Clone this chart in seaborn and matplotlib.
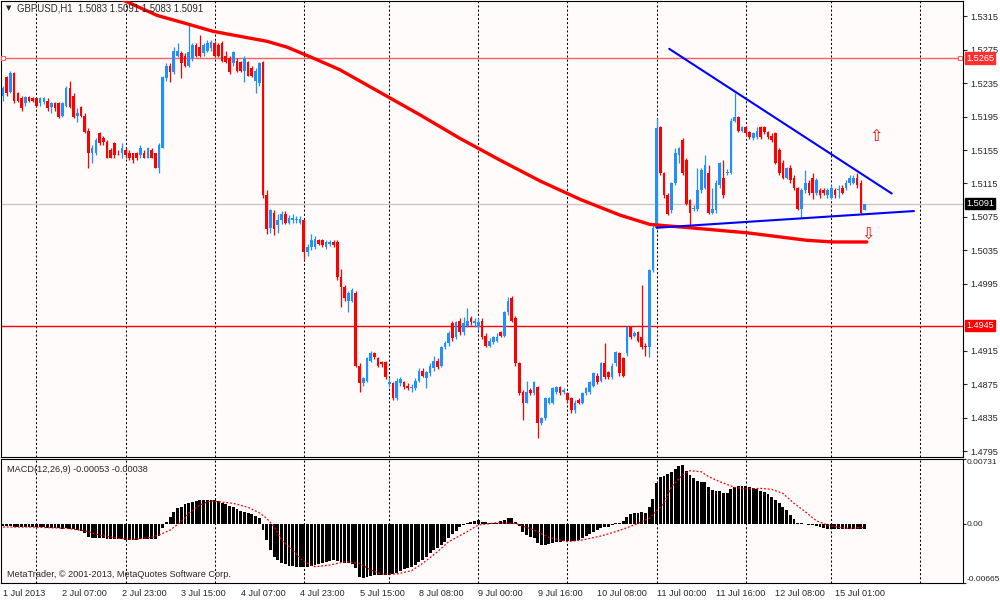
import numpy as np
import matplotlib
matplotlib.use("Agg")
import matplotlib.pyplot as plt
import seaborn as sns

# ── data: GBPUSD H1, prices in 1e-4 units ────────────────────────────────────
bar_open = [
    15220, 15242, 15224, 15247, 15223, 15217, 15211, 15218, 15217, 15217,
    15211, 15212, 15214, 15206, 15211, 15211, 15196, 15208, 15229, 15220,
    15196, 15206, 15196, 15178, 15151, 15152, 15175, 15169, 15164, 15155,
    15163, 15152, 15151, 15155, 15152, 15151, 15151, 15149, 15152, 15146,
    15155, 15151, 15134, 15158, 15241, 15256, 15248, 15268, 15271, 15268,
    15256, 15265, 15280, 15278, 15271, 15274, 15277, 15283, 15280, 15283,
    15268, 15265, 15259, 15262, 15260, 15250, 15260, 15253, 15238, 15235,
    15260, 15101, 15062, 15080, 15065, 15071, 15079, 15068, 15071, 15071,
    15068, 15071, 15033, 15039, 15039, 15047, 15047, 15039, 15042, 15045,
    15045, 15003, 14991, 14975, 14975, 14984, 14897, 14876, 14879, 14903,
    14912, 14906, 14901, 14901, 14875, 14876, 14858, 14876, 14877, 14873,
    14870, 14870, 14879, 14891, 14882, 14888, 14894, 14903, 14897, 14919,
    14924, 14948, 14931, 14951, 14937, 14945, 14954, 14948, 14943, 14951,
    14933, 14921, 14925, 14927, 14937, 14933, 14961, 14978, 14954, 14900,
    14865, 14853, 14868, 14864, 14871, 14828, 14834, 14853, 14853, 14865,
    14871, 14865, 14864, 14858, 14844, 14856, 14853, 14864, 14865, 14873,
    14885, 14879, 14900, 14889, 14883, 14900, 14912, 14906, 14912, 14943,
    14933, 14937, 14931, 14921, 14919, 15011, 15062, 15182, 15127, 15101,
    15083, 15115, 15149, 15167, 15143, 15095, 15084, 15084, 15107, 15110,
    15128, 15080, 15083, 15113, 15122, 15127, 15128, 15190, 15194, 15178,
    15182, 15176, 15169, 15170, 15182, 15182, 15176, 15172, 15175, 15155,
    15140, 15122, 15134, 15122, 15109, 15085, 15107, 15116, 15122, 15103,
    15107, 15107, 15101, 15098, 15107, 15107, 15110, 15109, 15115, 15116,
    15122, 15116, 15083]

bar_high = [
    15232, 15244, 15249, 15248, 15224, 15220, 15220, 15220, 15218, 15218,
    15218, 15219, 15217, 15213, 15213, 15212, 15213, 15232, 15238, 15223,
    15205, 15208, 15199, 15181, 15161, 15169, 15177, 15172, 15167, 15157,
    15165, 15155, 15163, 15157, 15155, 15152, 15153, 15161, 15155, 15159,
    15157, 15152, 15163, 15244, 15259, 15259, 15278, 15283, 15274, 15271,
    15304, 15283, 15283, 15292, 15283, 15286, 15286, 15285, 15283, 15285,
    15274, 15267, 15274, 15265, 15262, 15267, 15262, 15255, 15253, 15260,
    15262, 15107, 15085, 15083, 15079, 15082, 15082, 15077, 15078, 15076,
    15076, 15073, 15042, 15055, 15052, 15049, 15049, 15047, 15047, 15047,
    15047, 15013, 14993, 14986, 14990, 14986, 14900, 14884, 14908, 14915,
    14914, 14908, 14903, 14903, 14882, 14878, 14882, 14883, 14879, 14876,
    14875, 14882, 14894, 14894, 14891, 14900, 14909, 14906, 14921, 14926,
    14938, 14950, 14951, 14954, 14955, 14966, 14956, 14954, 14954, 14954,
    14936, 14930, 14933, 14936, 14939, 14963, 14979, 14980, 14956, 14902,
    14868, 14879, 14870, 14879, 14873, 14836, 14860, 14860, 14872, 14873,
    14873, 14870, 14866, 14860, 14856, 14858, 14866, 14872, 14879, 14890,
    14888, 14902, 14924, 14891, 14900, 14915, 14914, 14908, 14945, 14945,
    14939, 14939, 14993, 14924, 15013, 15065, 15193, 15184, 15129, 15103,
    15117, 15157, 15159, 15169, 15145, 15097, 15089, 15133, 15133, 15149,
    15137, 15110, 15119, 15141, 15143, 15132, 15193, 15223, 15196, 15184,
    15184, 15178, 15177, 15182, 15184, 15184, 15178, 15175, 15177, 15157,
    15143, 15135, 15137, 15125, 15111, 15109, 15131, 15119, 15127, 15121,
    15109, 15109, 15109, 15113, 15109, 15113, 15113, 15119, 15125, 15125,
    15128, 15119, 15091]

bar_low = [
    15214, 15220, 15223, 15211, 15212, 15202, 15208, 15212, 15212, 15206,
    15208, 15210, 15202, 15199, 15202, 15193, 15194, 15206, 15205, 15193,
    15188, 15194, 15175, 15134, 15139, 15149, 15161, 15161, 15145, 15145,
    15146, 15149, 15145, 15146, 15143, 15140, 15143, 15146, 15145, 15145,
    15145, 15133, 15127, 15157, 15238, 15236, 15246, 15266, 15241, 15254,
    15254, 15262, 15266, 15266, 15268, 15272, 15274, 15266, 15266, 15260,
    15259, 15246, 15256, 15248, 15248, 15236, 15243, 15242, 15223, 15232,
    15098, 15055, 15056, 15053, 15056, 15067, 15066, 15067, 15068, 15068,
    15067, 15025, 15028, 15036, 15037, 15041, 15039, 15037, 15040, 15039,
    14999, 14967, 14975, 14961, 14973, 14895, 14865, 14873, 14877, 14901,
    14905, 14895, 14896, 14881, 14872, 14856, 14856, 14873, 14869, 14868,
    14865, 14868, 14877, 14883, 14870, 14885, 14891, 14893, 14895, 14917,
    14921, 14927, 14929, 14934, 14934, 14943, 14946, 14943, 14940, 14929,
    14919, 14919, 14923, 14925, 14931, 14931, 14958, 14949, 14897, 14862,
    14832, 14852, 14862, 14862, 14811, 14826, 14832, 14851, 14851, 14863,
    14862, 14863, 14853, 14841, 14841, 14851, 14851, 14862, 14863, 14871,
    14875, 14877, 14881, 14881, 14881, 14897, 14885, 14883, 14909, 14929,
    14931, 14925, 14917, 14909, 14907, 15009, 15060, 15125, 15098, 15077,
    15080, 15113, 15139, 15125, 15089, 15062, 15082, 15082, 15104, 15108,
    15078, 15078, 15080, 15110, 15098, 15125, 15126, 15188, 15176, 15176,
    15172, 15168, 15167, 15168, 15168, 15174, 15168, 15164, 15138, 15125,
    15120, 15120, 15116, 15107, 15083, 15074, 15104, 15101, 15097, 15101,
    15098, 15101, 15098, 15096, 15098, 15098, 15102, 15107, 15113, 15114,
    15110, 15078, 15083]

bar_close = [
    15229, 15223, 15247, 15214, 15214, 15205, 15218, 15214, 15214, 15208,
    15217, 15217, 15205, 15211, 15205, 15194, 15211, 15229, 15206, 15194,
    15199, 15196, 15176, 15151, 15157, 15167, 15163, 15164, 15146, 15146,
    15149, 15151, 15157, 15149, 15145, 15143, 15145, 15158, 15146, 15157,
    15146, 15134, 15161, 15242, 15256, 15248, 15274, 15274, 15259, 15256,
    15272, 15280, 15268, 15268, 15280, 15283, 15284, 15268, 15268, 15262,
    15260, 15248, 15272, 15250, 15250, 15265, 15244, 15244, 15250, 15259,
    15101, 15061, 15083, 15061, 15071, 15079, 15068, 15074, 15074, 15073,
    15073, 15033, 15039, 15047, 15049, 15043, 15041, 15045, 15045, 15041,
    15003, 14991, 14978, 14984, 14987, 14897, 14876, 14882, 14906, 14912,
    14907, 14897, 14899, 14883, 14877, 14858, 14879, 14881, 14871, 14870,
    14872, 14879, 14891, 14885, 14889, 14897, 14903, 14895, 14919, 14924,
    14936, 14930, 14949, 14937, 14948, 14951, 14949, 14951, 14949, 14931,
    14921, 14927, 14931, 14931, 14933, 14961, 14975, 14951, 14900, 14864,
    14853, 14865, 14864, 14877, 14828, 14834, 14858, 14858, 14870, 14871,
    14864, 14868, 14856, 14844, 14853, 14853, 14864, 14870, 14877, 14888,
    14877, 14900, 14883, 14883, 14897, 14913, 14888, 14885, 14943, 14931,
    14936, 14927, 14919, 14919, 15011, 15062, 15181, 15127, 15101, 15079,
    15115, 15151, 15157, 15127, 15091, 15080, 15086, 15107, 15131, 15137,
    15080, 15085, 15116, 15139, 15101, 15129, 15190, 15194, 15178, 15182,
    15175, 15170, 15175, 15178, 15170, 15176, 15170, 15167, 15140, 15127,
    15122, 15133, 15119, 15109, 15085, 15107, 15115, 15103, 15104, 15119,
    15101, 15103, 15107, 15109, 15101, 15108, 15104, 15116, 15122, 15122,
    15113, 15080, 15091]

# moving average (thick red line), read at vertices: bar index, price*1e4
ma_bar = [30, 41.5, 49.5, 56.5, 63.8, 71.1, 76.5, 83.5, 90.7, 101.5, 112.3,
          123, 133.8, 144.6, 155.4, 166.2, 174.2, 185, 200.3, 216.5, 223.5, 232.6]
ma_price = [15339, 15316, 15306, 15297, 15291, 15285, 15278, 15265, 15251, 15224,
            15197, 15169, 15143, 15118, 15096, 15077, 15066, 15062, 15056, 15047,
            15045, 15045]

# MACD(12,26,9) main line as histogram, 1e-5 units
macd_main = [
    -25, -28, -25, -30, -32, -35, -35, -35, -33, -33,
    -38, -38, -42, -44, -45, -50, -55, -48, -52, -60,
    -68, -75, -100, -150, -158, -155, -160, -163, -170, -172,
    -172, -175, -175, -178, -180, -181, -180, -175, -172, -170,
    -168, -172, -140, -50, 25, 81, 138, 175, 194, 220,
    232, 243, 258, 269, 273, 273, 273, 269, 258, 239,
    220, 202, 187, 164, 145, 130, 119, 107, 89, 70,
    -69, -181, -294, -369, -406, -444, -455, -470, -474, -481,
    -481, -489, -481, -474, -466, -455, -444, -433, -418, -406,
    -418, -433, -436, -444, -451, -500, -594, -605, -598, -586,
    -579, -575, -575, -575, -575, -564, -549, -526, -508, -500,
    -481, -463, -433, -406, -376, -331, -294, -275, -238, -200,
    -155, -114, -76, -39, -12, 14, 25, 33, 44, 25,
    18, 14, 14, 14, 36, 44, 70, 70, 25, -24,
    -87, -125, -151, -162, -219, -238, -238, -230, -211, -200,
    -200, -193, -189, -189, -189, -181, -162, -136, -114, -87,
    -69, -50, -39, -31, -16, 14, 14, 36, 81, 108,
    119, 127, 130, 127, 187, 280, 457, 524, 543, 562,
    581, 618, 656, 663, 599, 551, 513, 483, 476, 468,
    419, 382, 374, 370, 352, 352, 393, 419, 430, 430,
    430, 412, 400, 393, 374, 355, 333, 307, 269, 232,
    194, 157, 100, 55, 14, 6, -1, -9, -12, -24,
    -39, -50, -53, -57, -57, -55, -55, -55, -54, -54,
    -53, -55, -53]

# signal line (red dotted), read at vertices
signal_bar = [0, 8, 17, 22, 26, 31, 35, 40, 42, 45, 48, 50, 53, 56, 58, 62, 66,
              69, 71, 73, 75, 78, 81, 84, 88, 92, 96, 99, 102, 106, 110, 113,
              117, 120, 125, 128, 133, 138, 143, 147, 152, 156, 161, 165, 170,
              174, 178, 180, 183, 185, 188, 190, 193, 197, 200, 204, 207, 210,
              213, 216, 219, 222, 225, 228, 232]
signal_val = [-35, -35, -50, -76, -125, -162, -174, -151, -125, -69, 25, 119,
              213, 262, 250, 232, 187, 126, 63, -31, -181, -294, -425, -481,
              -463, -425, -444, -519, -564, -564, -526, -444, -313, -200, -87,
              -12, 14, 6, -69, -151, -200, -181, -136, -87, -12, 63, 232, 419,
              551, 599, 588, 532, 476, 412, 393, 400, 389, 344, 232, 138, 36,
              -12, -39, -50, -38]

# drawn objects: trend lines (bar, price), horizontal levels, arrows
trend_upper_bar = [179.4, 239.3]
trend_upper_price = [1.5276, 1.5103]
trend_lower_bar = [176.0, 245.3]
trend_lower_price = [1.5062, 1.5082]
level_high = 1.5265
level_low = 1.4945
bid_price = 1.5091
arrow_up = (235.0, 1.5171)
arrow_down = (232.8, 1.5053)

day_start_bars = [9, 33, 57, 81, 104, 128, 152, 176, 200, 223, 247]
time_label_bars = [0, 16, 32, 48, 64, 80, 96, 112, 128, 144, 160, 176, 192, 208, 224]
time_labels = ["1 Jul 2013", "2 Jul 07:00", "2 Jul 23:00", "3 Jul 15:00",
               "4 Jul 07:00", "4 Jul 23:00", "5 Jul 15:00", "8 Jul 08:00",
               "9 Jul 00:00", "9 Jul 16:00", "10 Jul 08:00", "11 Jul 00:00",
               "11 Jul 16:00", "12 Jul 08:00", "15 Jul 01:00"]
price_ticks = [1.5315, 1.5275, 1.5235, 1.5195, 1.5155, 1.5115, 1.5075,
               1.5035, 1.4995, 1.4915, 1.4875, 1.4835, 1.4795]
macd_ticks = [0.00731, 0.0, -0.00665]
macd_tick_labels = ["0.00731", "0.00", "-0.00665"]

# ── style ─────────────────────────────────────────────────────────────────────
sns.set_style("white")
plt.rcParams["font.family"] = ["Liberation Sans", "DejaVu Sans"]
BG = "#FFFBFA"
BULL, BEAR = "#1E90FF", "#FF0000"
FS = 6.6

o = np.array(bar_open) / 1e4
h = np.array(bar_high) / 1e4
l = np.array(bar_low) / 1e4
c = np.array(bar_close) / 1e4
idx = np.arange(len(o))
xlim = (-0.54, 258.5)

fig = plt.figure(figsize=(10, 6), dpi=100)
fig.patch.set_facecolor("white")
ax = fig.add_axes([0.001, 0.2383, 0.962, 0.760])
ax2 = fig.add_axes([0.001, 0.0283, 0.962, 0.2067])

for a in (ax, ax2):
    a.set_facecolor(BG)
    a.set_xlim(*xlim)
    for s in a.spines.values():
        s.set_color("black")
        s.set_linewidth(0.8)
    for d in day_start_bars:
        a.axvline(d, color="black", lw=0.75, ls=(0, (2, 2)), zorder=1)

# ── price panel ───────────────────────────────────────────────────────────────
ax.set_ylim(1.47878, 1.53332)
ax.axhline(bid_price, color="#C8C8C8", lw=1, zorder=1)
ax.axhline(level_high, color="#FF6060", lw=1, zorder=1)
ax.axhline(level_low, color="#FF0000", lw=1, zorder=1)
ytr = ax.get_yaxis_transform()
ax.plot([0.002, 0.997], [level_high, level_high], ls="none", marker="s", ms=3.5,
        mfc="white", mec="#FF6060", mew=0.8, transform=ytr, clip_on=False, zorder=5)

colors = np.where(c >= o, BULL, BEAR)
ax.vlines(idx, l, h, colors=colors, lw=0.9, zorder=3)
body = np.maximum(np.abs(c - o), 0.00007)
ax.bar(idx, body, bottom=np.minimum(o, c) - (body - np.abs(c - o)) / 2,
       width=0.72, color=colors, lw=0, zorder=3)

sns.lineplot(x=ma_bar, y=np.array(ma_price) / 1e4, color="#FF0000", lw=2.4,
             estimator=None, sort=False, ax=ax, zorder=4)
ax.plot(trend_upper_bar, trend_upper_price, color="#0000FF", lw=1.5, zorder=5)
ax.plot(trend_lower_bar, trend_lower_price, color="#0000FF", lw=1.5, zorder=5)
ax.text(*arrow_up, "\u21e7", color="#FF0000", fontsize=11.5, ha="center", va="center",
        family="DejaVu Sans", zorder=6)
ax.text(*arrow_down, "\u21e9", color="#FF0000", fontsize=11.5, ha="center", va="center",
        family="DejaVu Sans", zorder=6)

ax.set_xticks([])
ax.yaxis.tick_right()
ax.set_yticks(price_ticks)
ax.set_yticklabels([f"{p:.4f}" for p in price_ticks])
ax.tick_params(axis="y", length=3, width=0.8, pad=2, labelsize=FS, direction="out")
ax.set_ylabel("")

for val, fc in ((level_high, "#FF3030"), (level_low, "#FF0000"), (bid_price, "black")):
    ax.text(1.003, val, f"{val:.4f}", transform=ytr, ha="left", va="center",
            fontsize=FS, color="white", clip_on=False, zorder=7,
            bbox=dict(boxstyle="square,pad=0.15", fc=fc, ec=fc))

ax.text(0.005, 0.992, "\u25bc", transform=ax.transAxes, ha="left", va="top",
        fontsize=5, family="DejaVu Sans")
ax.text(0.017, 0.994, "GBPUSD,H1  1.5083 1.5091 1.5083 1.5091", transform=ax.transAxes,
        ha="left", va="top", fontsize=FS + 0.3, zorder=8)

# ── MACD panel ────────────────────────────────────────────────────────────────
ax2.set_ylim(-0.00665, 0.00731)
ax2.bar(idx, np.array(macd_main) / 1e5, width=0.78, color="black", lw=0, zorder=3)
sns.lineplot(x=signal_bar, y=np.array(signal_val) / 1e5, color="#FF0000", lw=0.9,
             ls=(0, (1.5, 1.5)), estimator=None, sort=False, ax=ax2, zorder=4)
ax2.yaxis.tick_right()
ax2.set_yticks(macd_ticks)
ax2.set_yticklabels(macd_tick_labels)
ax2.tick_params(axis="y", length=2, width=0.8, pad=0.5, labelsize=FS - 0.6)
ylabels = ax2.get_yticklabels()
ylabels[0].set_va("top")
ylabels[-1].set_va("bottom")
ax2.set_ylabel("")
ax2.set_xticks(time_label_bars)
ax2.set_xticklabels(time_labels, ha="left")
ax2.tick_params(axis="x", length=3, width=0.8, pad=1.5, labelsize=FS)

ax2.text(0.006, 0.95, "MACD(12,26,9) -0.00053 -0.00038", transform=ax2.transAxes,
         ha="left", va="top", fontsize=FS, zorder=8)
ax2.text(0.006, 0.03, "MetaTrader, \u00a9 2001-2013, MetaQuotes Software Corp.",
         transform=ax2.transAxes, ha="left", va="bottom", fontsize=FS, zorder=8)

fig.savefig("out.png", dpi=100, facecolor="white")
